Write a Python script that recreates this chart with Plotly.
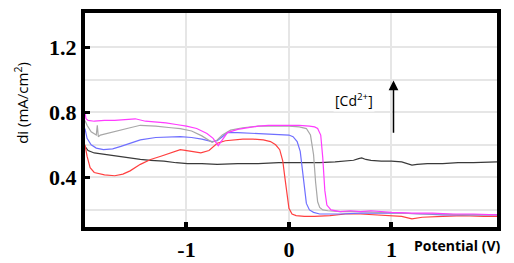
import plotly.graph_objects as go

# ---- data ----
mag_x = [-1.99,-1.98,-1.96,-1.9,-1.8,-1.7,-1.6,-1.5,-1.4,-1.3,-1.2,-1.1,-1.0,-0.9,-0.8,-0.74,-0.69,-0.65,-0.6,-0.5,-0.4,-0.3,-0.2,-0.1,0.0,0.1,0.2,0.25,0.28,0.31,0.33,0.35,0.37,0.41,0.5,0.6,0.7,0.8,1.0,1.2,1.4,1.6,1.8,2.03]
mag_y = [0.80,0.76,0.75,0.745,0.75,0.75,0.755,0.76,0.745,0.74,0.735,0.725,0.715,0.70,0.67,0.64,0.595,0.63,0.675,0.695,0.705,0.715,0.72,0.72,0.72,0.72,0.715,0.71,0.70,0.66,0.52,0.32,0.23,0.20,0.19,0.195,0.19,0.195,0.185,0.18,0.18,0.175,0.175,0.17]

gry_x = [-1.99,-1.97,-1.93,-1.88,-1.87,-1.86,-1.84,-1.75,-1.64,-1.55,-1.45,-1.3,-1.15,-1.06,-0.95,-0.85,-0.75,-0.7,-0.65,-0.57,-0.45,-0.3,-0.15,0.0,0.1,0.17,0.21,0.24,0.26,0.28,0.3,0.33,0.38,0.5,0.7,0.9,1.1,1.3,1.5,1.7,1.9,2.03]
gry_y = [0.75,0.72,0.68,0.66,0.72,0.65,0.66,0.675,0.69,0.705,0.72,0.715,0.705,0.70,0.685,0.655,0.615,0.63,0.66,0.69,0.705,0.715,0.715,0.715,0.71,0.70,0.66,0.54,0.37,0.25,0.215,0.20,0.195,0.19,0.19,0.185,0.18,0.175,0.175,0.17,0.17,0.17]

blu_x = [-1.99,-1.97,-1.93,-1.88,-1.81,-1.72,-1.64,-1.55,-1.45,-1.3,-1.15,-1.06,-0.95,-0.85,-0.75,-0.7,-0.65,-0.6,-0.5,-0.3,-0.1,0.0,0.04,0.08,0.11,0.13,0.15,0.17,0.2,0.24,0.3,0.5,0.7,0.9,1.1,1.3,1.5,1.7,1.9,2.03]
blu_y = [0.70,0.64,0.60,0.58,0.57,0.575,0.59,0.61,0.63,0.645,0.65,0.65,0.645,0.635,0.62,0.625,0.65,0.675,0.675,0.67,0.665,0.66,0.65,0.62,0.56,0.45,0.32,0.24,0.20,0.185,0.175,0.175,0.18,0.18,0.18,0.175,0.17,0.17,0.17,0.17]

red_x = [-1.99,-1.97,-1.94,-1.9,-1.8,-1.7,-1.62,-1.55,-1.45,-1.35,-1.25,-1.15,-1.06,-0.95,-0.86,-0.78,-0.7,-0.62,-0.55,-0.45,-0.35,-0.25,-0.18,-0.13,-0.09,-0.06,-0.04,-0.02,0.0,0.03,0.07,0.15,0.25,0.4,0.55,0.7,0.85,1.0,1.1,1.2,1.3,1.5,1.7,1.9,2.03]
red_y = [0.60,0.53,0.46,0.43,0.415,0.41,0.42,0.44,0.48,0.51,0.53,0.55,0.57,0.56,0.55,0.565,0.61,0.625,0.63,0.635,0.635,0.63,0.62,0.60,0.57,0.50,0.40,0.29,0.21,0.175,0.165,0.16,0.16,0.165,0.175,0.175,0.17,0.165,0.16,0.145,0.155,0.16,0.165,0.16,0.16]

blk_x = [-1.99,-1.96,-1.9,-1.84,-1.75,-1.65,-1.55,-1.45,-1.35,-1.22,-1.1,-0.99,-0.85,-0.7,-0.5,-0.3,-0.1,0.1,0.3,0.45,0.55,0.63,0.68,0.71,0.75,0.8,0.9,1.0,1.1,1.15,1.2,1.25,1.35,1.5,1.65,1.8,1.95,2.03]
blk_y = [0.59,0.565,0.55,0.545,0.535,0.525,0.52,0.51,0.505,0.50,0.49,0.485,0.485,0.48,0.485,0.485,0.49,0.49,0.49,0.495,0.50,0.505,0.515,0.52,0.51,0.505,0.50,0.50,0.495,0.485,0.475,0.48,0.485,0.485,0.49,0.49,0.495,0.495]

x_ticks = [-1, 0, 1]
y_ticks = [0.4, 0.8, 1.2]

series = [
    (blk_x, blk_y, "#3a3a3a"),
    (red_x, red_y, "#ff4040"),
    (blu_x, blu_y, "#6f6fff"),
    (gry_x, gry_y, "#a8a8a8"),
    (mag_x, mag_y, "#ff3cff"),
]

fig = go.Figure()
for xs, ys, c in series:
    fig.add_trace(go.Scatter(x=xs, y=ys, mode="lines",
                             line=dict(color=c, width=1.2), showlegend=False,
                             hoverinfo="skip"))

tickfont = dict(family="Liberation Serif", size=22, color="black", weight="bold")
# page body has an 8px default margin, so the figure is sized 8px smaller
fig.update_layout(
    width=506, height=255,
    margin=dict(l=77, r=17, t=1, b=34),
    plot_bgcolor="white", paper_bgcolor="white",
    xaxis=dict(range=[-1.99, 2.03], tickvals=x_ticks, ticktext=[str(v) for v in x_ticks],
               showline=True, linecolor="black", linewidth=4, mirror=True,
               ticks="inside", ticklen=5, tickwidth=4, tickcolor="black",
               showgrid=True, gridcolor="#e6e6e6", gridwidth=1.5,
               zeroline=False, tickfont=tickfont),
    yaxis=dict(range=[0.095, 1.41], tickvals=y_ticks, ticktext=["0.4", "0.8", "1.2"],
               showline=True, linecolor="black", linewidth=4, mirror=True,
               ticks="inside", ticklen=5, tickwidth=3, tickcolor="black",
               showgrid=True, gridcolor="#e6e6e6", gridwidth=2,
               minor=dict(tickvals=[0.2, 0.6, 1.0], showgrid=True,
                          gridcolor="#e6e6e6", gridwidth=2),
               zeroline=False, tickfont=tickfont),
    annotations=[
        dict(text="di (mA/cm<sup>2</sup>)", xref="paper", yref="paper",
             x=-0.153, y=0.58, xanchor="center", yanchor="middle",
             textangle=-90, showarrow=False,
             font=dict(family="Open Sans", size=15, color="black")),
        dict(text="<b>Potential (V)</b>", xref="paper", yref="paper",
             x=0.905, y=-0.087, xanchor="center", yanchor="middle", showarrow=False,
             font=dict(family="Open Sans", size=14, color="black")),
        dict(text="[Cd<sup>2+</sup>]", xref="x", yref="y", x=0.63, y=0.875,
             xanchor="center", yanchor="middle",
             showarrow=False, bgcolor="white",
             font=dict(family="Open Sans", size=14, color="black")),
        dict(x=1.02, y=0.995, ax=1.02, ay=0.665, xref="x", yref="y",
             axref="x", ayref="y", showarrow=True, arrowhead=2, arrowsize=1.3,
             arrowwidth=1.5, arrowcolor="black", text=""),
    ],
)

fig.write_html("out.html")
